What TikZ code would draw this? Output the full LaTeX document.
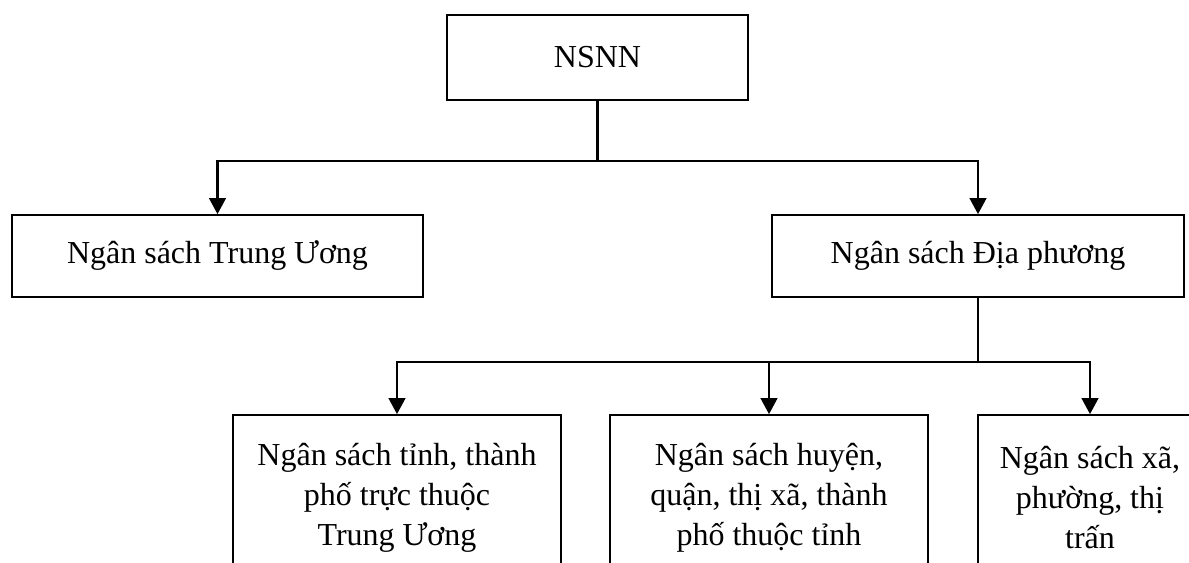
\documentclass[tikz,border=0pt]{standalone}
\usepackage{fontspec}
\setmainfont{Liberation Serif}
\usetikzlibrary{arrows.meta}
\begin{document}
\begin{tikzpicture}[x=0.75pt,y=-0.75pt,
  box/.style={draw,line width=1.3pt,inner sep=0pt,align=center,font=\fontsize{24}{30}\selectfont},
  conn/.style={line width=1.6pt},
  arr/.style={line width=1.6pt,-{Triangle[width=12.5pt,length=12pt]}}]
\useasboundingbox (0,0) rectangle (1189,563);
\clip (0,0) rectangle (1189,563);
\node[box,minimum width=225.75pt,minimum height=63.75pt] (root) at (597.5,57.5) {NSNN};
\node[box,minimum width=308.25pt,minimum height=61.5pt] (tw) at (217.5,256) {Ngân sách Trung Ương};
\node[box,minimum width=309pt,minimum height=61.5pt] (dp) at (978,256) {Ngân sách Địa phương};
\node[box,minimum width=246pt,minimum height=123.75pt] (b1) at (397,497.5) {Ngân sách tỉnh, thành\\phố trực thuộc\\Trung Ương};
\node[box,minimum width=238.5pt,minimum height=123.75pt] (b2) at (769,497.5) {Ngân sách huyện,\\quận, thị xã, thành\\phố thuộc tỉnh};
\node[box,minimum width=168pt,minimum height=123.75pt] (b3) at (1090,497.5) {Ngân sách xã,\\phường, thị\\trấn};
\coordinate (j1) at (597.5,161);
\coordinate (j2) at (978,362);
\draw[conn] (root.south) -- (j1);
\draw[arr] (j1) -| (tw.north);
\draw[arr] (j1) -| (dp.north);
\draw[conn] (dp.south) -- (j2);
\draw[arr] (j2) -| (b1.north);
\draw[arr] (j2) -| (b2.north);
\draw[arr] (j2) -| (b3.north);
\end{tikzpicture}
\end{document}
